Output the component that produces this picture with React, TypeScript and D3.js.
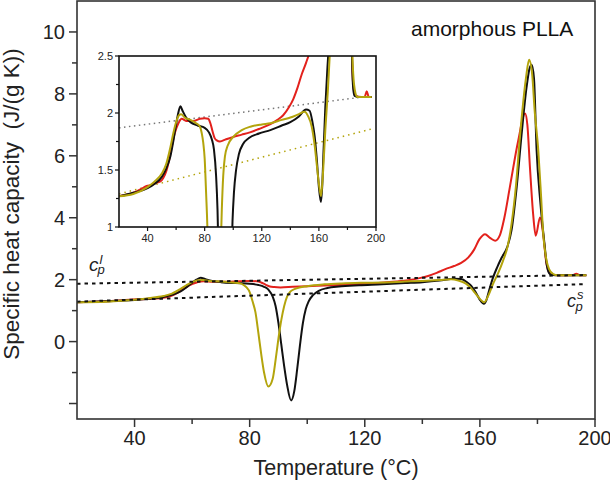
import React from "react";
import * as d3 from "d3";

// temperature (°C) / specific heat capacity (J/(g K))
const blackT = [20, 30, 40, 45, 50, 53, 56, 58, 60, 61.5, 63, 64.5, 67, 70, 75, 80, 83, 85, 86.5, 88, 89, 90, 91, 92, 93, 94.4, 95.5, 96.5, 97.5, 98.5, 99.5, 100.5, 102, 104, 107, 111, 118, 126, 134, 140, 146, 151, 153.5, 155.5, 157, 158.5, 160, 161.4, 162.3, 163.2, 164.5, 166, 167.5, 169.5, 171, 172.8, 174.5, 176.2, 177.2, 178, 178.8, 179.7, 181, 182.4, 183.2, 184, 185, 188, 192, 197];
const blackCp = [1.27, 1.3, 1.34, 1.38, 1.44, 1.51, 1.62, 1.75, 1.9, 2.0, 2.06, 2.02, 1.96, 1.92, 1.89, 1.87, 1.83, 1.77, 1.68, 1.45, 1.15, 0.6, -0.1, -0.8, -1.4, -1.9, -1.6, -0.9, -0.1, 0.6, 1.05, 1.3, 1.5, 1.64, 1.73, 1.78, 1.82, 1.85, 1.89, 1.92, 1.97, 2.03, 2.02, 1.92, 1.8, 1.6, 1.35, 1.22, 1.35, 1.65, 2.05, 2.4, 2.7, 3.05, 3.6, 5.0, 6.7, 8.2, 8.8, 8.94, 8.5, 6.2, 4.5, 3.2, 2.5, 2.22, 2.15, 2.14, 2.14, 2.14];

const oliveT = [20, 30, 40, 45, 50, 53, 56, 58, 60, 62, 63.5, 66, 70, 74, 76.7, 78, 79, 80, 81, 82, 83, 84, 85, 86.5, 88, 89, 90, 91, 92, 93, 94.2, 96, 100, 106, 112, 120, 126, 134, 140, 146, 150, 152.5, 155, 157, 158.5, 160, 161.5, 163, 164.5, 166.3, 168, 169.7, 171, 172.5, 174, 176, 177.1, 178.2, 179, 180.3, 181.2, 182, 183, 184, 185.5, 187, 192, 197];
const oliveCp = [1.27, 1.29, 1.35, 1.4, 1.47, 1.55, 1.7, 1.82, 1.92, 1.98, 1.99, 1.96, 1.94, 1.91, 1.88, 1.82, 1.74, 1.6, 1.3, 0.95, 0.3, -0.4, -1.0, -1.45, -1.2, -0.6, 0.1, 0.7, 1.15, 1.45, 1.62, 1.71, 1.79, 1.85, 1.88, 1.9, 1.91, 1.94, 1.96, 1.99, 2.01, 1.97, 1.88, 1.72, 1.55, 1.38, 1.27, 1.5, 1.85, 2.2, 2.6, 3.1, 3.8, 5.0, 6.7, 8.5, 9.1, 8.6, 7.5, 6.16, 4.8, 3.48, 2.7, 2.35, 2.18, 2.14, 2.14, 2.14];

const redT = [20, 30, 35, 39.4, 43, 46.4, 49, 51, 53.4, 55, 56.9, 59, 61.6, 63.9, 67.4, 72, 76.7, 80, 82.5, 84, 85.5, 87, 88.5, 90.7, 95, 100, 106, 111.7, 118, 125.7, 131, 135, 139, 142, 145, 148, 151, 153.5, 156, 158, 159.8, 161.8, 163.5, 165.3, 167, 168.5, 170.4, 173.3, 175.7, 176.5, 177.4, 178.5, 179.4, 180.9, 182, 183, 184, 185.5, 190, 192, 193.5, 195, 197];
const redCp = [1.27, 1.3, 1.33, 1.36, 1.37, 1.39, 1.4, 1.43, 1.5, 1.58, 1.7, 1.82, 1.91, 1.95, 1.93, 1.93, 1.95, 1.955, 1.95, 1.91, 1.84, 1.78, 1.76, 1.75, 1.77, 1.79, 1.81, 1.83, 1.86, 1.9, 1.94, 1.98, 2.05, 2.12, 2.22, 2.34, 2.44, 2.54, 2.72, 2.97, 3.3, 3.47, 3.35, 3.26, 3.45, 4.0, 4.98, 6.48, 7.37, 7.0, 5.62, 4.12, 3.42, 4.01, 3.47, 2.6, 2.25, 2.15, 2.14, 2.14, 2.19, 2.14, 2.14];

// liquid and solid heat capacity baselines
const baseT = [20, 197];
const cpLiquid = [1.87, 2.15];
const cpSolid = [1.29, 1.86];

const xTicks = [20, 40, 60, 80, 100, 120, 140, 160, 180, 200];
const yTicks = [-2, -1, 0, 1, 2, 3, 4, 5, 6, 7, 8, 9, 10];
const insetYTicks = [1, 1.25, 1.5, 1.75, 2, 2.25, 2.5];

const series = [
  { name: "red", t: redT, cp: redCp, color: "#e3211c" },
  { name: "black", t: blackT, cp: blackCp, color: "#111111" },
  { name: "olive", t: oliveT, cp: oliveCp, color: "#b3a40c" },
];

const FONT = "'Liberation Sans', Arial, sans-serif";

export default function App() {
  const x = d3.scaleLinear().domain([20, 200]).range([77, 595]);
  const y = d3.scaleLinear().domain([-2.5, 11]).range([419, 1]);
  const ix = d3.scaleLinear().domain([20, 200]).range([119, 376]);
  const iy = d3.scaleLinear().domain([1, 2.5]).range([227, 56]);

  const mkLine = (sx: any, sy: any, ts: number[], vs: number[]) =>
    d3
      .line<number>()
      .x((_, i) => sx(ts[i]))
      .y((v) => sy(v))
      .curve(d3.curveMonotoneX)(vs) || "";

  const axisColor = "#333";

  return (
    <svg
      width={610}
      height={484}
      style={{ position: "absolute", left: 0, top: 0, background: "#fff" }}
      fontFamily={FONT}
    >
      <defs>
        <clipPath id="mainClip">
          <rect x={77} y={1} width={518} height={418} />
        </clipPath>
        <clipPath id="insetClip">
          <rect x={119} y={56} width={257} height={171} />
        </clipPath>
      </defs>

      {/* main curves */}
      <g clipPath="url(#mainClip)" fill="none">
        {series.map((s) => (
          <path key={s.name} d={mkLine(x, y, s.t, s.cp)} stroke={s.color} strokeWidth={2} />
        ))}
        <path d={mkLine(x, y, baseT, cpLiquid)} stroke="#111" strokeWidth={2} strokeDasharray="3.5,4" />
        <path d={mkLine(x, y, baseT, cpSolid)} stroke="#111" strokeWidth={2} strokeDasharray="3.5,4" />
      </g>

      {/* main frame */}
      <rect x={77} y={1} width={518} height={418} fill="none" stroke={axisColor} strokeWidth={1.6} />

      {/* x axis */}
      {xTicks.map((t) => {
        const major = t % 40 === 0;
        return (
          <g key={"x" + t}>
            {t > 20 && (
              <line x1={x(t)} x2={x(t)} y1={419} y2={419 + (major ? 8 : 5)} stroke={axisColor} strokeWidth={1.5} />
            )}
            {major && (
              <text x={x(t)} y={445} textAnchor="middle" fontSize={20} fill="#222">
                {t}
              </text>
            )}
          </g>
        );
      })}
      <text x={336} y={475} textAnchor="middle" fontSize={21.5} fill="#222">
        Temperature (°C)
      </text>

      {/* y axis */}
      {yTicks.map((v) => {
        const major = v % 2 === 0;
        return (
          <g key={"y" + v}>
            <line x1={77 - (major ? 8 : 5)} x2={77} y1={y(v)} y2={y(v)} stroke={axisColor} strokeWidth={1.5} />
            {major && v >= 0 && (
              <text x={65} y={y(v)} dy="0.36em" textAnchor="end" fontSize={20} fill="#222">
                {v}
              </text>
            )}
          </g>
        );
      })}
      <text
        transform="translate(19,204) rotate(-90)"
        textAnchor="middle"
        fontSize={22.5}
        fill="#222"
        style={{ whiteSpace: "pre" }}
      >
        {"Specific heat capacity  (J/(g K))"}
      </text>

      <text x={411} y={36} fontSize={21} fill="#111">
        amorphous PLLA
      </text>

      {/* cp labels */}
      <text x={89} y={271} fontSize={19} fontStyle="italic" fill="#222">
        c
        <tspan dx={1} dy={-7} fontSize={13}>l</tspan>
        <tspan dx={-5} dy={10} fontSize={13}>p</tspan>
      </text>
      <text x={567} y={307} fontSize={18} fontStyle="italic" fill="#222">
        c
        <tspan dx={1} dy={-8} fontSize={13}>s</tspan>
        <tspan dx={-8} dy={12} fontSize={13}>p</tspan>
      </text>

      {/* inset */}
      <rect x={119} y={56} width={257} height={171} fill="#fff" />
      <g clipPath="url(#insetClip)" fill="none">
        <path d={mkLine(ix, iy, baseT, cpLiquid)} stroke="#777" strokeWidth={1.5} strokeDasharray="1.5,3.5" />
        <path d={mkLine(ix, iy, baseT, cpSolid)} stroke="#b3a40c" strokeWidth={1.5} strokeDasharray="1.5,4" />
        {series.map((s) => (
          <path key={s.name} d={mkLine(ix, iy, s.t, s.cp)} stroke={s.color} strokeWidth={2} />
        ))}
      </g>
      <rect x={119} y={56} width={257} height={171} fill="none" stroke="#111" strokeWidth={1.6} />
      {xTicks.map((t) => {
        const major = t % 40 === 0;
        return (
          <g key={"ix" + t}>
            {t > 20 && (
              <line x1={ix(t)} x2={ix(t)} y1={227} y2={227 + (major ? 4 : 3)} stroke="#111" strokeWidth={1.2} />
            )}
            {major && (
              <text x={ix(t)} y={242} textAnchor="middle" fontSize={11} fill="#222">
                {t}
              </text>
            )}
          </g>
        );
      })}
      {insetYTicks.map((v) => {
        const major = Math.round(v * 2) === v * 2;
        return (
          <g key={"iy" + v}>
            <line x1={119 - (major ? 4 : 3)} x2={119} y1={iy(v)} y2={iy(v)} stroke="#111" strokeWidth={1.2} />
            {major && (
              <text x={113} y={iy(v)} dy="0.35em" textAnchor="end" fontSize={11} fill="#222">
                {v}
              </text>
            )}
          </g>
        );
      })}
    </svg>
  );
}
